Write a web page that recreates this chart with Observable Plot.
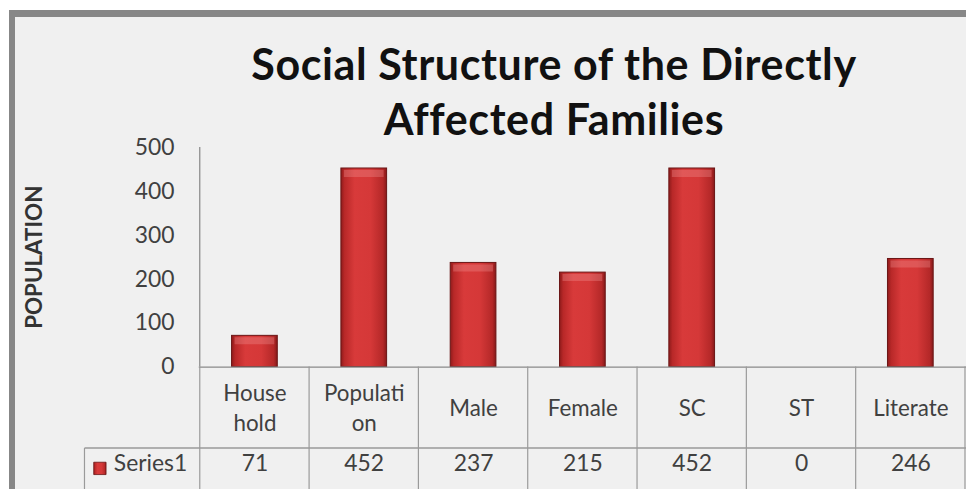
<!DOCTYPE html>
<html>
<head>
<meta charset="utf-8">
<script src="https://cdn.jsdelivr.net/npm/d3@7"></script>
<script src="https://cdn.jsdelivr.net/npm/@observablehq/plot@0.6"></script>
<style>
  html, body { margin: 0; padding: 0; background: #ffffff; width: 966px; height: 489px; overflow: hidden; }
  #frame { position: absolute; left: 9px; top: 10px; width: 1000px; height: 520px; background: #f0f0f0;
           border-left: 6px solid #878787; border-top: 7px solid #878787; }
  #title { position: absolute; left: 0; top: 36px; width: 1108px; text-align: center;
           font-family: Lato, sans-serif; font-weight: bold; font-size: 43px; letter-spacing: 0.6px;
           line-height: 55px; color: #111; }
  #chart { position: absolute; left: 0; top: 132px; }
</style>
</head>
<body>
<div id="frame"></div>
<div id="title">Social Structure of the Directly<br>Affected Families</div>
<div id="chart"></div>
<script>
const categories = ["Household", "Population", "Male", "Female", "SC", "ST", "Literate"];
const tickLabels = ["House\nhold", "Populati\non", "Male", "Female", "SC", "ST", "Literate"];
const values = [71, 452, 237, 215, 452, 0, 246];
const seriesName = "Series1";
const yTicks = [0, 100, 200, 300, 400, 500];
const yLabel = "POPULATION";

const data = categories.map((c, i) => ({category: c, label: tickLabels[i], value: values[i]}));

const W = 972, H = 360;
const textColor = "#404040";

const plot = Plot.plot({
  width: W, height: H,
  marginLeft: 200, marginRight: 0, marginTop: 15, marginBottom: 124,
  style: {background: "transparent", fontFamily: "Lato, sans-serif", color: textColor, overflow: "visible"},
  x: {domain: categories, paddingInner: 0.583, paddingOuter: 0.2915, axis: null},
  y: {domain: [0, 500], axis: null},
  marks: [
    Plot.axisY({ticks: yTicks, tickSize: 0, tickPadding: 25, fontSize: 23, label: null, fill: textColor}),
    Plot.barY(data, {filter: d => d.value > 0, x: "category", y: "value", fill: "url(#barGrad)", stroke: "#6a1515", strokeWidth: 1}),
    Plot.tickY(data, {filter: d => d.value > 0, x: "category", y: "value", stroke: "#f5a0a0", strokeWidth: 7, strokeOpacity: 0.3, dy: 5, inset: 3}),
    Plot.ruleY([0], {stroke: "#8a8a8a", strokeWidth: 1.2}),
    Plot.text(data, {x: "category", text: "label", frameAnchor: "bottom", lineAnchor: "middle", dy: 40, fontSize: 22.5, lineHeight: 1.34, fill: textColor}),
    Plot.text(data, {x: "category", text: d => String(d.value), frameAnchor: "bottom", dy: 105, fontSize: 23, fill: textColor}),
    Plot.text([seriesName], {frameAnchor: "bottom-left", dx: -86, dy: 105, textAnchor: "start", fontSize: 23, fill: textColor}),
    Plot.dot([seriesName], {frameAnchor: "bottom-left", dx: -100, dy: 102, symbol: "square", r: 7, fill: "url(#barGrad)", stroke: "#6a1515", strokeWidth: 0.8}),
    Plot.text([yLabel], {frameAnchor: "left", textAnchor: "middle", dx: -165, rotate: -90, fontWeight: "bold", fontSize: 22.5, fill: "#333333"})
  ]
});

document.getElementById("chart").appendChild(plot);

// gradient definitions for the bevelled bars
d3.select(plot).insert("defs", ":first-child").html(
  `<linearGradient id="barGrad" x1="0" x2="1" y1="0" y2="0">
     <stop offset="0" stop-color="#8e1b1b"/>
     <stop offset="0.08" stop-color="#b82828"/>
     <stop offset="0.3" stop-color="#d83a3a"/>
     <stop offset="0.65" stop-color="#d53838"/>
     <stop offset="0.92" stop-color="#b42828"/>
     <stop offset="1" stop-color="#861a1a"/>
   </linearGradient>`
);

// data-table grid lines, placed from Plot's own scales
const xs = plot.scale("x"), ys = plot.scale("y");
const gap = (xs.step - xs.bandwidth) / 2;
const bounds = categories.map(c => xs.apply(c) - gap);
bounds.push(xs.apply(categories[categories.length - 1]) + xs.bandwidth + gap);
const y0 = ys.apply(0), yTop = ys.apply(500);
const rowY = y0 + 82;
const g = d3.select(plot).append("g").attr("stroke", "#9a9a9a").attr("stroke-width", 1.2).attr("fill", "none");
g.append("line").attr("x1", bounds[0]).attr("x2", bounds[0]).attr("y1", yTop).attr("y2", y0).attr("stroke", "#868686");
bounds.forEach(b => g.append("line").attr("x1", b).attr("x2", b).attr("y1", y0).attr("y2", H));
g.append("line").attr("x1", 85).attr("x2", W).attr("y1", rowY).attr("y2", rowY).attr("stroke-width", 1.6);
g.append("line").attr("x1", 85).attr("x2", 85).attr("y1", rowY).attr("y2", H);
</script>
</body>
</html>
